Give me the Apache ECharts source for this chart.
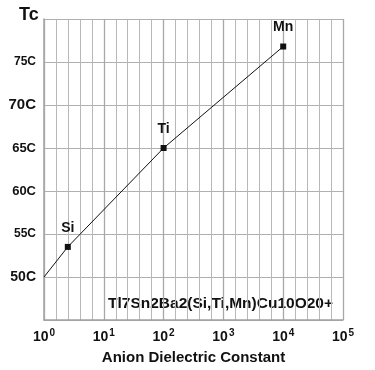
<!DOCTYPE html>
<html>
<head>
<meta charset="utf-8">
<script src="https://cdn.jsdelivr.net/npm/echarts@6/dist/echarts.min.js"></script>
<style>
html,body{margin:0;padding:0;background:#fff;}
#c{width:375px;height:370px;}
</style>
</head>
<body>
<div id="c"></div>
<script>
// Data
var xValues = [1, 2.5, 100, 10000];          // anion dielectric constant
var tcValues = [50, 53.5, 65, 76.8];         // Tc (C)
var pointNames = ['', 'Si', 'Ti', 'Mn'];
var xTickExponents = ['0', '1', '2', '3', '4', '5'];
var yTickValues = [50, 55, 60, 65, 70, 75];
var yTickLabels = ['50C', '55C', '60C', '65C', '70C', '75C'];
var yTickSizes = ['s14', 's12', 's13', 's13', 's15', 's12'];
var noteText = 'Tl7Sn2Ba2(Si,Ti,Mn)Cu10O20+';

var FONT = '"Liberation Sans", Arial, sans-serif';
var seriesData = xValues.map(function (x, i) {
  var item = { value: [x, tcValues[i]], name: pointNames[i] };
  if (!pointNames[i]) { item.symbol = 'none'; item.label = { show: false }; }
  return item;
});

var chart = echarts.init(document.getElementById('c'), null, { renderer: 'canvas' });
chart.setOption({
  backgroundColor: '#fff',
  animation: false,
  title: {
    text: 'Tc', left: 14, top: 1,
    textStyle: { fontFamily: FONT, fontWeight: 'bold', fontSize: 18, color: '#111' }
  },
  grid: { left: 44, right: 32, top: 19, bottom: 43, containLabel: false },
  xAxis: [{
    type: 'log', logBase: 10, min: 1, max: 100000, splitNumber: 5,
    name: 'Anion Dielectric Constant', nameLocation: 'middle', nameGap: 30,
    nameTextStyle: { fontFamily: FONT, fontWeight: 'bold', fontSize: 15, color: '#111' },
    axisLine: { show: true, lineStyle: { color: '#a0a0a0', width: 1.5 } },
    axisTick: { show: false },
    axisLabel: {
      margin: 8,
      formatter: function (v) {
        var e = Math.round(Math.log10(v));
        return '{b|10}{s|' + xTickExponents[e] + '}';
      },
      rich: {
        b: { fontFamily: FONT, fontWeight: 'bold', fontSize: 14, color: '#111' },
        s: { fontFamily: FONT, fontWeight: 'bold', fontSize: 10, color: '#111', verticalAlign: 'top', padding: [0, 0, 8, 1] }
      }
    },
    splitLine: { show: true, lineStyle: { color: '#a8a8a8', width: 1.3 } },
    minorTick: { show: false },
    minorSplitLine: { show: false },
    z: 3
  }, {
    // decorative axis in log10 units: evenly spaced sub-decade grid lines
    type: 'value', min: 0, max: 5, interval: 0.2, position: 'bottom',
    axisLine: { show: false }, axisTick: { show: false }, axisLabel: { show: false },
    splitLine: { show: true, lineStyle: { color: '#b8b8b8', width: 1 } },
    z: 1
  }],
  yAxis: {
    type: 'value', min: 45, max: 80, interval: 5,
    axisLine: { show: true, lineStyle: { color: '#a0a0a0', width: 1.5 } },
    axisTick: { show: false },
    axisLabel: {
      margin: 8,
      formatter: function (v) {
        var i = yTickValues.indexOf(v);
        return i < 0 ? '' : '{' + yTickSizes[i] + '|' + yTickLabels[i] + '}';
      },
      rich: {
        s12: { fontFamily: FONT, fontWeight: 'bold', fontSize: 12, color: '#111' },
        s13: { fontFamily: FONT, fontWeight: 'bold', fontSize: 13, color: '#111' },
        s14: { fontFamily: FONT, fontWeight: 'bold', fontSize: 14, color: '#111' },
        s15: { fontFamily: FONT, fontWeight: 'bold', fontSize: 15, color: '#111' }
      }
    },
    splitLine: { show: true, lineStyle: { color: '#b0b0b0', width: 1 } }
  },
  graphic: [{
    type: 'text', right: 42, top: 296,
    style: { text: noteText, font: 'bold 15.5px ' + FONT, fill: '#111' }
  }],
  series: [{
    type: 'line',
    xAxisIndex: 0,
    data: seriesData,
    symbol: 'rect', symbolSize: 6,
    itemStyle: { color: '#111' },
    lineStyle: { color: '#111', width: 1 },
    label: {
      show: true, position: 'top', distance: 9,
      formatter: '{b}',
      fontFamily: FONT, fontWeight: 'bold', fontSize: 14, color: '#111'
    }
  }]
});
</script>
</body>
</html>
